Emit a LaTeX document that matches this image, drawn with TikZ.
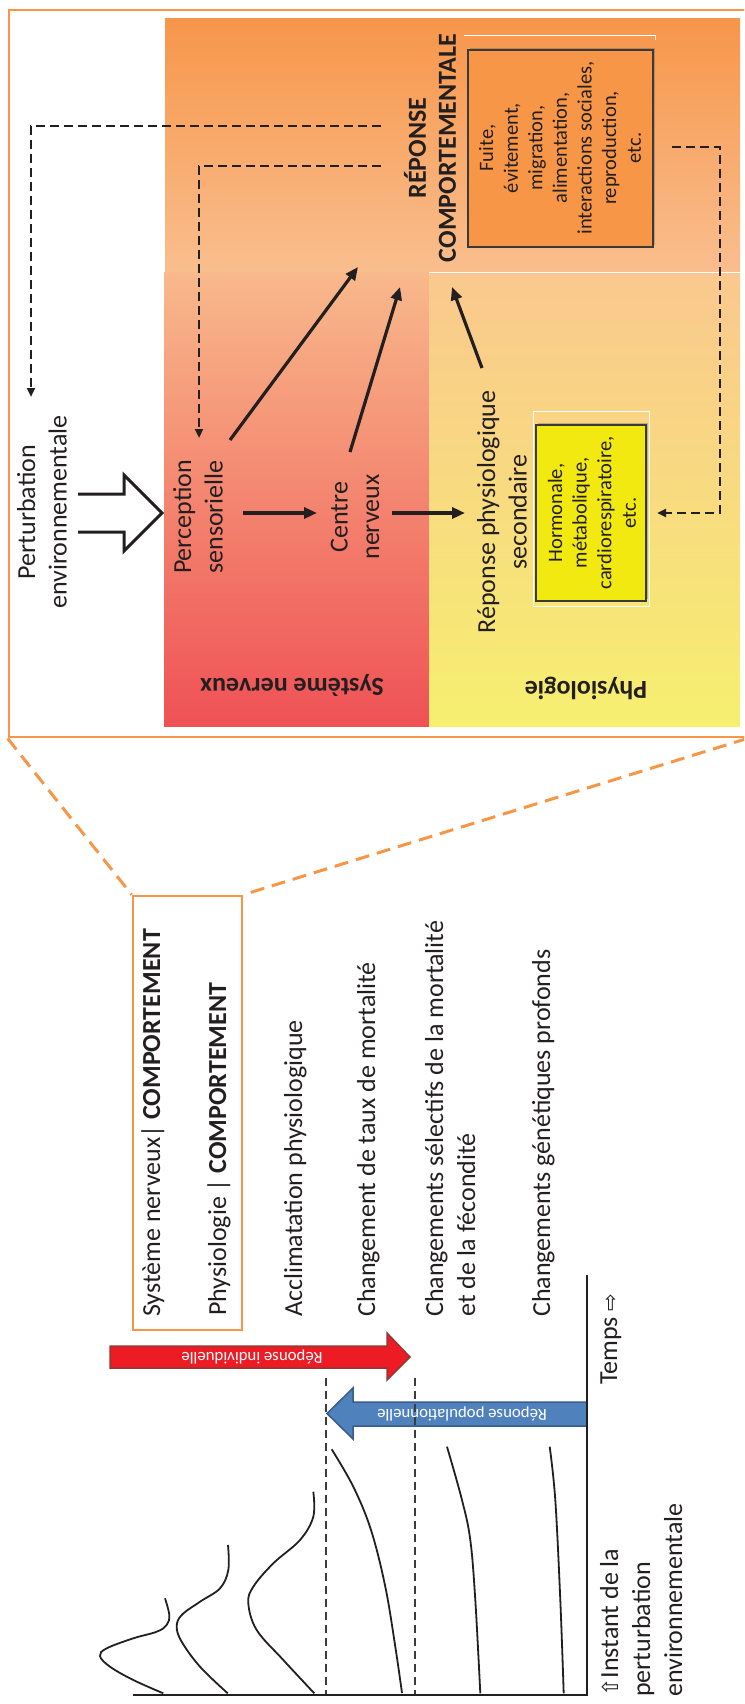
\documentclass[tikz,border=0pt]{standalone}
\usepackage{fontspec}
\setmainfont{Carlito}
\newfontfamily\djv{DejaVu Sans}
\usetikzlibrary{arrows.meta,shadows}
\definecolor{tcol}{HTML}{231F20}
\definecolor{orfr}{HTML}{F79646}
\definecolor{topA}{HTML}{F7964A}
\definecolor{topB}{HTML}{F9BE8E}
\definecolor{nsA}{HTML}{F8B98B}
\definecolor{nsB}{HTML}{EF5155}
\definecolor{phA}{HTML}{FAC88E}
\definecolor{phB}{HTML}{F6EF70}
\definecolor{orbox}{HTML}{F79646}
\definecolor{yebox}{HTML}{F1E90F}
\definecolor{boxb}{HTML}{3A3A3A}
\definecolor{redA}{HTML}{ED1C24}
\definecolor{redB}{HTML}{953735}
\definecolor{bluA}{HTML}{4F81BD}
\definecolor{bluB}{HTML}{385D8A}
\definecolor{gdc}{HTML}{3C3C3C}
\tikzset{
  txt/.style={font=\fontsize{26}{31.5}\selectfont, text=tcol, inner sep=0pt},
  btxt/.style={font=\bfseries\fontsize{26}{30}\selectfont, text=tcol, inner sep=0pt},
  bxt/.style={font=\fontsize{20.5}{24.6}\selectfont, text=tcol, inner sep=0pt, align=center},
  atxt/.style={font=\fontsize{16.8}{18}\selectfont, text=white, inner sep=0pt},
  lefttxt/.style={txt, rotate=90, anchor=base west},
  arr/.style={draw=tcol, line width=3.2pt, -{Triangle[length=13pt,width=11pt]}},
  darr/.style={draw=tcol, line width=2.7pt, dash pattern=on 9pt off 5pt, -{Triangle[length=9pt,width=8pt]}},
  odash/.style={draw=orfr, line width=3pt, dash pattern=on 14pt off 8pt},
  gdash/.style={draw=gdc, line width=2pt, dash pattern=on 8pt off 5pt},
  crv/.style={draw=tcol, line width=1.8pt},
  axisl/.style={draw=tcol, line width=2.4pt, line join=miter},
  boxst/.style={draw=boxb, line width=1.3pt, inner sep=0pt,
    drop shadow={shadow xshift=2pt, shadow yshift=2pt, opacity=0.3, fill=black!70}},
}
\begin{document}
\begin{tikzpicture}[x=1pt,y=-1pt]
\useasboundingbox (0,0) rectangle (744,1704);
\clip (0,0) rectangle (744,1704);

% coloured regions
\shade[top color=topA, bottom color=topB] (165,19) rectangle (740,272);
\shade[top color=nsA, bottom color=nsB] (164,272) rectangle (429,726);
\shade[top color=phA, bottom color=phB] (429,272) rectangle (740,726);
\draw[white, line width=0.8pt] (429,272) -- (740,272);

% frame and small box
\node[draw=orfr, line width=2.8pt, minimum width=737pt, minimum height=727pt, inner sep=0pt] (frame) at (377.5,373.5) {};
\node[draw=orfr, line width=2.6pt, minimum width=109pt, minimum height=434pt, inner sep=0pt] (sbox) at (187.5,1113) {};
\draw[odash] (frame.south west) -- (sbox.north west);
\draw[odash] (frame.south east) -- (sbox.north east);

% boxes
\draw[white, line width=0.8pt] (464,35) -- (655,35) -- (655,40);
\node[boxst, fill=orbox, minimum width=185pt, minimum height=197pt] (obox) at (560.5,148.5) {};
\draw[white, line width=0.8pt] (533,411) rectangle (649,606);
\node[boxst, fill=yebox, minimum width=110pt, minimum height=176pt] (ybox) at (591,513) {};
\node[bxt, rotate=90] (otext) at (560,148) {Fuite,\\évitement,\\migration,\\alimentation,\\interactions sociales,\\reproduction,\\etc.};
\node[bxt, rotate=90] (ytext) at (592,513) {Hormonale,\\métabolique,\\cardiorespiratoire,\\etc.};

% texts of the top panel
\node[txt, rotate=90, align=center] (pert) at (42,512) {Perturbation\\environnementale};
\node[txt, rotate=90, align=center] (perc) at (198,517) {Perception\\sensorielle};
\node[txt, rotate=90, align=center] (centre) at (355,517) {Centre\\nerveux};
\node[txt, rotate=90, align=center] (rps) at (502,512) {Réponse physiologique\\secondaire};
\node[btxt, rotate=90, align=center] (rc) at (430,148) {RÉPONSE\\COMPORTEMENTALE};
\node[btxt, rotate=180] (snlab) at (292,685) {Système nerveux};
\node[btxt, rotate=180] (phlab) at (586,688) {Physiologie};

% hollow arrow
\draw[draw=tcol, line width=3pt, line join=miter, fill=white]
  (78,494) -- (124,494) -- (124,475) -- (162,513) -- (124,551) -- (124,532) -- (78,532);

% solid arrows
\coordinate (percE) at (243,513);
\coordinate (centreW) at (317,513);
\coordinate (centreE) at (392,513);
\coordinate (rpsW) at (465,513);
\coordinate (percNE) at (230,440);
\coordinate (rcA) at (358,267);
\coordinate (centreN) at (350,452);
\coordinate (rcB) at (400,287);
\coordinate (rpsN) at (482,368);
\coordinate (rcC) at (452,287);
\draw[arr] (percE) -- (centreW);
\draw[arr] (centreE) -- (rpsW);
\draw[arr] (percNE) -- (rcA);
\draw[arr] (centreN) -- (rcB);
\draw[arr] (rpsN) -- (rcC);

% dashed feedback arrows
\coordinate (rcD1) at (381,126);
\coordinate (pertN) at (31,397);
\coordinate (rcD2) at (381,166);
\coordinate (percN) at (199,438);
\coordinate (oboxE) at (672,147);
\coordinate (yboxE) at (657,513);
\draw[darr] (rcD1) -| (pertN);
\draw[darr] (rcD2) -| (percN);
\draw[darr] (oboxE) -- (720,147) -- (720,513) -- (yboxE);

% lower part : texts
\node[lefttxt] (sn) at (160,1317) {Système nerveux|\ \textbf{COMPORTEMENT}};
\node[lefttxt] (ph) at (226,1316) {Physiologie\ |\ \textbf{COMPORTEMENT}};
\node[lefttxt] (accl) at (302,1317) {Acclimatation physiologique};
\node[lefttxt] (chg1) at (375,1317) {Changement de taux de mortalité};
\node[lefttxt] (chg2a) at (443,1317) {Changements sélectifs de la mortalité};
\node[lefttxt] (chg2b) at (475,1317) {et de la fécondité};
\node[lefttxt] (chg3) at (550,1317) {Changements génétiques profonds};
\node[lefttxt] (temps) at (617,1385) {Temps {\djv\fontsize{21}{21}\selectfont ⇨}};
\node[lefttxt] (inst1) at (618,1697) {{\djv\fontsize{22}{22}\selectfont ⇧}Instant de la};
\node[lefttxt] (inst2) at (650,1697) {perturbation};
\node[lefttxt] (inst3) at (682,1697) {environnementale};

% response arrows
\draw[fill=redA, draw=redB, line width=1.5pt, line join=miter]
  (110,1346) -- (387,1346) -- (387,1333) -- (410,1357) -- (387,1380) -- (387,1368) -- (110,1368) -- cycle;
\node[atxt, rotate=180] (rind) at (252,1357) {Réponse individuelle};
\draw[fill=bluA, draw=bluB, line width=1.5pt, line join=miter]
  (587,1402) -- (353,1402) -- (353,1388) -- (327,1413.5) -- (353,1439) -- (353,1426) -- (587,1426) -- cycle;
\node[atxt, rotate=180] (rpop) at (462,1414) {Réponse populationnelle};

% chart
\draw[gdash] (326,1378) -- (326,1694);
\draw[gdash] (415,1378) -- (415,1694);
\draw[axisl] (133,1695) -- (587,1695) -- (587,1275);
\draw[crv] plot[smooth, tension=0.6] coordinates {(163.3,1693.3) (133.3,1680) (110,1666.7) (100,1656) (106.7,1648.3) (133.3,1638.3) (156.7,1631.7) (166.7,1625) (169.3,1615) (165,1598.3)};
\draw[crv] plot[smooth, tension=0.6] coordinates {(227.7,1693.3) (200,1666.7) (181.7,1641.7) (176.7,1626.7) (181.7,1615) (200,1601.7) (220,1588.3) (228.3,1570) (228,1545)};
\draw[crv] plot[smooth, tension=0.6] coordinates {(314.3,1693.3) (283.3,1660) (256.7,1630) (248.3,1603.3) (253.3,1586.7) (273.3,1563.3) (300,1540) (313.3,1516.7) (313.3,1491.7)};
\draw[crv] plot[smooth, tension=0.6] coordinates {(331.7,1449.3) (353.3,1486.7) (371,1530) (385.3,1586.7) (395.3,1646.7) (402,1693)};
\draw[crv] plot[smooth, tension=0.6] coordinates {(447,1446.7) (462,1500) (470.3,1540) (475.3,1600) (480.3,1693.3)};
\draw[crv] plot[smooth, tension=0.6] coordinates {(549.7,1446.7) (555.3,1500) (560.3,1600) (563.7,1693.3)};
\end{tikzpicture}
\end{document}
